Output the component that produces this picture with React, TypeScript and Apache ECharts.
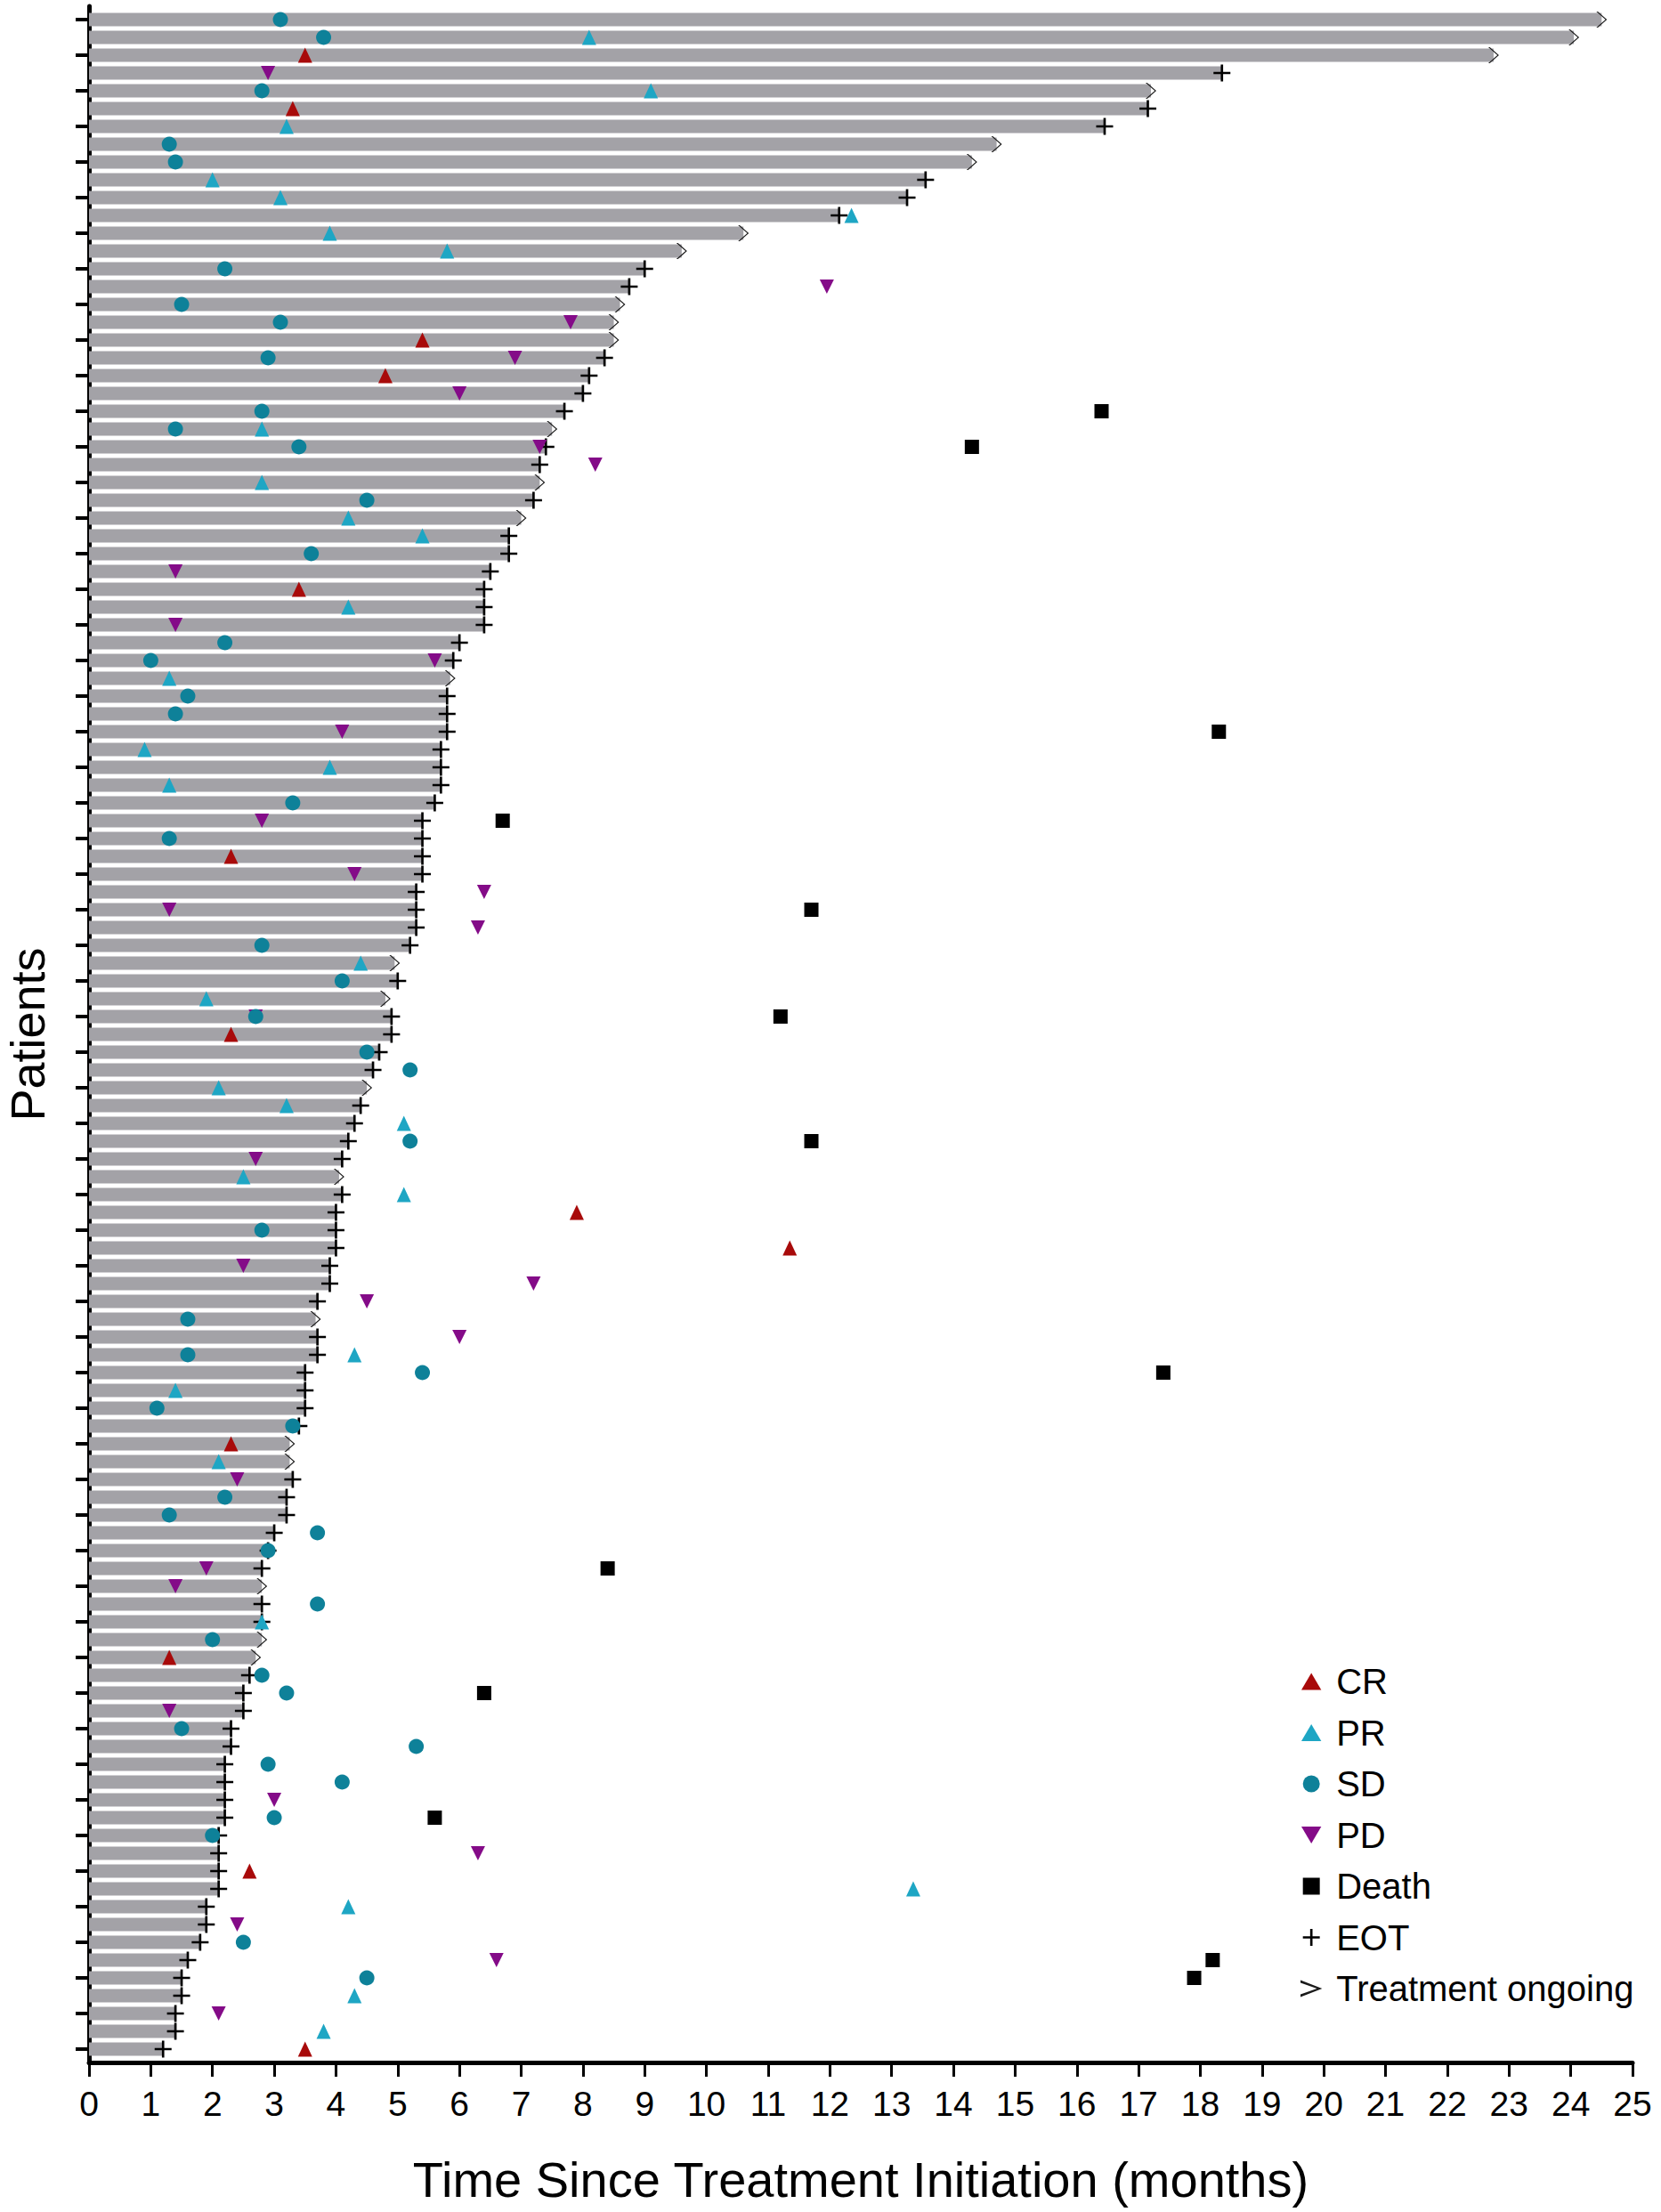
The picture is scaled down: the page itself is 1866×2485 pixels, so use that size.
import React, { useEffect, useRef } from "react";
import * as echarts from "echarts";

// ---------- DATA ----------
const patients: number[] = Array.from({ length: 115 }, (_, i) => i + 1);

// time on treatment (months), patient 1 (top) to 115 (bottom)
const durations: number[] = [
  24.5, 24.05, 22.75, 18.35, 17.2, 17.15, 16.45, 14.7, 14.3, 13.55,
  13.25, 12.15, 10.6, 9.6, 9.0, 8.75, 8.6, 8.5, 8.5, 8.35,
  8.1, 8.0, 7.7, 7.5, 7.4, 7.3, 7.3, 7.2, 7.0, 6.8,
  6.8, 6.5, 6.4, 6.4, 6.4, 6.0, 5.9, 5.85, 5.8, 5.8,
  5.8, 5.7, 5.7, 5.7, 5.6, 5.4, 5.4, 5.4, 5.4, 5.3,
  5.3, 5.3, 5.2, 4.95, 5.0, 4.8, 4.9, 4.9, 4.7, 4.6,
  4.5, 4.4, 4.3, 4.2, 4.1, 4.05, 4.1, 4.0, 4.0, 4.0,
  3.9, 3.9, 3.7, 3.67, 3.7, 3.7, 3.5, 3.5, 3.5, 3.4,
  3.25, 3.25, 3.3, 3.2, 3.2, 3.0, 2.9, 2.8, 2.8, 2.8,
  2.8, 2.8, 2.7, 2.6, 2.5, 2.5, 2.3, 2.3, 2.2, 2.2,
  2.2, 2.2, 2.1, 2.1, 2.1, 2.1, 1.9, 1.9, 1.8, 1.6,
  1.5, 1.5, 1.4, 1.4, 1.2,
];

// patients whose treatment is ongoing (all others: end of treatment)
const ongoingPatients: number[] = [
  1, 2, 3, 5, 8, 9, 13, 14, 17, 18, 19, 24, 27, 29, 38, 54, 56, 61, 66, 74, 81, 82, 89, 92, 93,
];

// [patient, month]
const crEvents: number[][] = [
  [3, 3.5], [6, 3.3], [19, 5.4], [21, 4.8], [33, 3.4], [48, 2.3], [58, 2.3], [68, 7.9],
  [70, 11.35], [81, 2.3], [93, 1.3], [105, 2.6], [115, 3.5],
];
const prEvents: number[][] = [
  [2, 8.1], [5, 9.1], [7, 3.2], [10, 2.0], [11, 3.1], [12, 12.35], [13, 3.9], [14, 5.8],
  [24, 2.8], [27, 2.8], [29, 4.2], [30, 5.4], [34, 4.2], [38, 1.3], [42, 0.9], [43, 3.9],
  [44, 1.3], [54, 4.4], [56, 1.9], [61, 2.1], [62, 3.2], [63, 5.1], [66, 2.5], [67, 5.1],
  [76, 4.3], [78, 1.4], [82, 2.1], [91, 2.8], [106, 13.35], [107, 4.2], [112, 4.3], [114, 3.8],
];
const sdEvents: number[][] = [
  [1, 3.1], [2, 3.8], [5, 2.8], [8, 1.3], [9, 1.4], [15, 2.2], [17, 1.5], [18, 3.1],
  [20, 2.9], [23, 2.8], [24, 1.4], [25, 3.4], [28, 4.5], [31, 3.6], [36, 2.2], [37, 1.0],
  [39, 1.6], [40, 1.4], [45, 3.3], [47, 1.3], [53, 2.8], [55, 4.1], [57, 2.7], [59, 4.5],
  [60, 5.2], [64, 5.2], [69, 2.8], [74, 1.6], [76, 1.6], [77, 5.4], [79, 1.1], [80, 3.3],
  [84, 2.2], [85, 1.3], [86, 3.7], [87, 2.9], [90, 3.7], [92, 2.0], [94, 2.8], [95, 3.2],
  [97, 1.5], [98, 5.3], [99, 2.9], [100, 4.1], [102, 3.0], [103, 2.0], [109, 2.5], [111, 4.5],
];
const pdEvents: number[][] = [
  [4, 2.9], [16, 11.95], [18, 7.8], [20, 6.9], [22, 6.0], [25, 7.3], [26, 8.2], [32, 1.4],
  [35, 1.4], [37, 5.6], [41, 4.1], [46, 2.8], [49, 4.3], [50, 6.4], [51, 1.3], [52, 6.3],
  [57, 2.7], [65, 2.7], [71, 2.5], [72, 7.2], [73, 4.5], [75, 6.0], [83, 2.4], [88, 1.9],
  [89, 1.4], [96, 1.3], [101, 3.0], [104, 6.3], [108, 2.4], [110, 6.6], [113, 2.1],
];
const deathEvents: number[][] = [
  [23, 16.4], [25, 14.3], [41, 18.3], [46, 6.7], [51, 11.7], [57, 11.2], [64, 11.7],
  [77, 17.4], [88, 8.4], [95, 6.4], [102, 5.6], [110, 18.2], [111, 17.9],
];

const xTickValues: number[] = Array.from({ length: 26 }, (_, i) => i);
const yTickPatients: number[] = patients.filter((p) => p % 2 === 1);

// ---------- STYLE ----------
const FONT = "Liberation Sans";
const BAR_COLOR = "#a3a2a7";
const CR_COLOR = "#a80a0a";
const PR_COLOR = "#1ea6c4";
const SD_COLOR = "#0e8199";
const PD_COLOR = "#840b88";
const PLUS_PATH = "path://M8,0h2.6v8h8v2.6h-8v8h-2.6v-8h-8v-2.6h8z";
const CHEVRON_PATH = "path://M0,0L10,9L0,18L1.7,18L11.7,9L1.7,0Z";
const LEGEND_PLUS = "path://M8.6,0h2.8v8.6h8.6v2.8h-8.6v8.6h-2.8v-8.6h-8.6v-2.8h8.6z";
const LEGEND_CHEVRON = "path://M0,0L20,7.8L0,15.6L0,13.2L15.2,7.8L0,2.4Z";
const LEGEND_TRI = "path://M5,0L10,8.5L0,8.5Z";
const LEGEND_DOWN_TRI = "path://M0,0L10,0L5,8.5Z";
const LEGEND_CIRCLE = "path://M10,5A5,5,0,1,1,0,5A5,5,0,1,1,10,5Z";
const LEGEND_SQUARE = "path://M0,0H10V10H0Z";
const DOWN_TRI = "path://M0,0L10,0L5,9Z";

function toXY(events: number[][]) {
  return events.map(([p, m]) => [m, p]);
}

export default function App() {
  const ref = useRef<HTMLDivElement>(null);

  useEffect(() => {
    if (!ref.current) return;
    const chart = echarts.init(ref.current, undefined, { renderer: "svg" });

    const barData = patients.map((p, i) => [durations[i], p]);
    const eotData = patients
      .filter((p) => !ongoingPatients.includes(p))
      .map((p) => [durations[p - 1], p]);
    const ongoingData = ongoingPatients.map((p) => [durations[p - 1], p]);

    const option: any = {
      animation: false,
      backgroundColor: "#ffffff",
      textStyle: { fontFamily: FONT },
      grid: {
        left: 100,
        right: 32,
        top: 7,
        bottom: 168,
        containLabel: false,
        outerBoundsMode: "none",
      },
      legend: {
        orient: "vertical",
        left: 1456,
        top: 1864,
        itemWidth: 46,
        itemHeight: 19,
        itemGap: 17.5,
        selectedMode: false,
        symbolKeepAspect: true,
        textStyle: { fontSize: 40, color: "#000", fontFamily: FONT },
        data: [
          { name: "CR", icon: LEGEND_TRI },
          { name: "PR", icon: LEGEND_TRI },
          { name: "SD", icon: LEGEND_CIRCLE },
          { name: "PD", icon: LEGEND_DOWN_TRI },
          { name: "Death", icon: LEGEND_SQUARE },
          { name: "EOT", icon: LEGEND_PLUS },
          { name: "Treatment ongoing", icon: LEGEND_CHEVRON },
        ],
      },
      xAxis: {
        type: "value",
        min: 0,
        max: 25,
        interval: 1,
        name: "Time Since Treatment Initiation (months)",
        nameLocation: "middle",
        nameGap: 103,
        nameTextStyle: { fontSize: 56, color: "#000", fontFamily: FONT },
        axisLine: { show: true, lineStyle: { color: "#000", width: 5 } },
        axisTick: { show: true, length: 16, lineStyle: { color: "#000", width: 3 } },
        axisLabel: {
          fontSize: 39,
          color: "#000",
          margin: 27,
          fontFamily: FONT,
          customValues: xTickValues,
        },
        splitLine: { show: false },
      },
      yAxis: {
        type: "value",
        min: 0.25,
        max: 115.75,
        inverse: true,
        name: "Patients",
        nameLocation: "middle",
        nameGap: 42,
        nameTextStyle: { fontSize: 54, lineHeight: 54, color: "#000", fontFamily: FONT },
        axisLine: { show: true, lineStyle: { color: "#000", width: 5 } },
        axisTick: {
          show: true,
          length: 15,
          lineStyle: { color: "#000", width: 4 },
          customValues: yTickPatients,
        },
        axisLabel: { show: false, customValues: yTickPatients },
        splitLine: { show: false },
      },
      series: [
        {
          type: "custom",
          name: "bars",
          data: barData,
          encode: { x: 0, y: 1 },
          renderItem: (params: any, api: any) => {
            const end = api.value(0);
            const row = api.value(1);
            const s = api.coord([0, row]);
            const e = api.coord([end, row]);
            const h = api.size([0, 1])[1] * 0.76;
            return {
              type: "rect",
              shape: { x: s[0], y: s[1] - h / 2, width: e[0] - s[0], height: h },
              style: { fill: BAR_COLOR },
            };
          },
          z: 1,
        },
        {
          type: "scatter",
          name: "EOT",
          data: eotData,
          symbol: PLUS_PATH,
          symbolSize: [19, 19],
          itemStyle: { color: "#000", opacity: 1 },
          z: 3,
        },
        {
          type: "scatter",
          name: "Treatment ongoing",
          data: ongoingData,
          symbol: CHEVRON_PATH,
          symbolSize: [12, 18],
          itemStyle: { color: "#1a1a1a", opacity: 1 },
          z: 3,
        },
        {
          type: "scatter",
          name: "PD",
          data: toXY(pdEvents),
          symbol: DOWN_TRI,
          symbolSize: [16, 16],
          itemStyle: { color: PD_COLOR, opacity: 1 },
          z: 4,
        },
        {
          type: "scatter",
          name: "CR",
          data: toXY(crEvents),
          symbol: "triangle",
          symbolSize: [16, 17],
          itemStyle: { color: CR_COLOR, opacity: 1 },
          z: 4,
        },
        {
          type: "scatter",
          name: "PR",
          data: toXY(prEvents),
          symbol: "triangle",
          symbolSize: [16, 17],
          itemStyle: { color: PR_COLOR, opacity: 1 },
          z: 4,
        },
        {
          type: "scatter",
          name: "SD",
          data: toXY(sdEvents),
          symbol: "circle",
          symbolSize: 17,
          itemStyle: { color: SD_COLOR, opacity: 1 },
          z: 4,
        },
        {
          type: "scatter",
          name: "Death",
          data: toXY(deathEvents),
          symbol: "rect",
          symbolSize: 16,
          itemStyle: { color: "#000", opacity: 1 },
          z: 4,
        },
      ],
    };

    chart.setOption(option);
    return () => chart.dispose();
  }, []);

  return (
    <div
      ref={ref}
      style={{ position: "absolute", left: 0, top: 0, width: 1866, height: 2485, background: "#fff" }}
    />
  );
}
